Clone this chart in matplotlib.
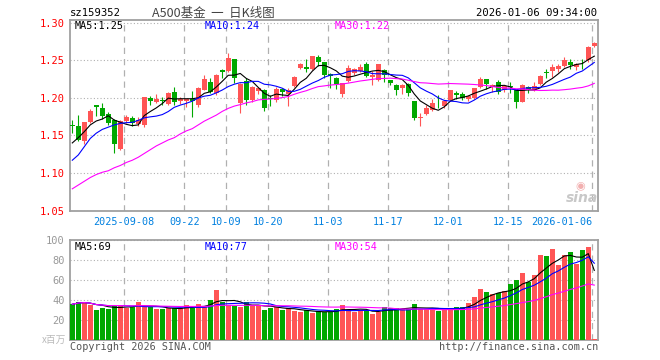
import matplotlib
matplotlib.use('Agg')
import matplotlib.pyplot as plt
import numpy as np
import pandas as pd

# daily candles, 88 sessions (last one = 2026-01-06 intraday)
opens = [1.164, 1.163, 1.142, 1.168, 1.190, 1.187, 1.179, 1.171, 1.132, 1.169,
         1.173, 1.165, 1.164, 1.200, 1.195, 1.197, 1.192, 1.208, 1.196, 1.196,
         1.198, 1.190, 1.211, 1.221, 1.206, 1.237, 1.236, 1.251, 1.193, 1.222,
         1.197, 1.209, 1.211, 1.200, 1.197, 1.212, 1.205, 1.216, 1.240, 1.241,
         1.239, 1.254, 1.247, 1.232, 1.227, 1.205, 1.222, 1.233, 1.236, 1.245,
         1.228, 1.224, 1.2375, 1.224, 1.217, 1.2137, 1.219, 1.1956, 1.1731, 1.178,
         1.1837, 1.1930, 1.1895, 1.1969, 1.2070, 1.2057, 1.1978, 1.2000, 1.2145, 1.2246,
         1.2145, 1.2211, 1.2101, 1.2150, 1.2101, 1.1948, 1.2145, 1.2110, 1.2190, 1.2330,
         1.2357, 1.2387, 1.2418, 1.2475, 1.2410, 1.2478, 1.2497, 1.2695]
highs = [1.171, 1.177, 1.168, 1.185, 1.190, 1.193, 1.181, 1.172, 1.171, 1.177,
         1.176, 1.174, 1.201, 1.202, 1.205, 1.201, 1.208, 1.215, 1.201, 1.198,
         1.209, 1.214, 1.230, 1.226, 1.232, 1.238, 1.259, 1.251, 1.220, 1.227,
         1.216, 1.215, 1.212, 1.204, 1.214, 1.213, 1.213, 1.229, 1.246, 1.252,
         1.256, 1.257, 1.247, 1.233, 1.228, 1.220, 1.243, 1.240, 1.245, 1.247,
         1.236, 1.2445, 1.239, 1.224, 1.219, 1.219, 1.2195, 1.1956, 1.1793, 1.1903,
         1.1983, 1.2044, 1.1969, 1.2110, 1.2088, 1.2079, 1.2035, 1.2136, 1.2277, 1.2246,
         1.2189, 1.2233, 1.2160, 1.2210, 1.2101, 1.2190, 1.2154, 1.2210, 1.2300, 1.2387,
         1.2453, 1.2453, 1.2540, 1.2520, 1.2462, 1.2520, 1.2695, 1.2740]
lows = [1.153, 1.143, 1.138, 1.167, 1.176, 1.172, 1.164, 1.127, 1.131, 1.166,
        1.163, 1.162, 1.161, 1.191, 1.193, 1.191, 1.190, 1.190, 1.192, 1.188,
        1.175, 1.188, 1.210, 1.207, 1.204, 1.226, 1.234, 1.220, 1.180, 1.190,
        1.194, 1.205, 1.182, 1.189, 1.195, 1.203, 1.189, 1.214, 1.238, 1.234,
        1.237, 1.242, 1.227, 1.213, 1.212, 1.201, 1.221, 1.231, 1.234, 1.228,
        1.217, 1.223, 1.221, 1.2165, 1.2035, 1.2049, 1.2023, 1.1705, 1.1631, 1.1771,
        1.1824, 1.1859, 1.1859, 1.1956, 1.1991, 1.1969, 1.1956, 1.1983, 1.2132, 1.2123,
        1.2079, 1.2057, 1.2080, 1.2060, 1.1860, 1.1948, 1.2060, 1.2090, 1.2170, 1.2270,
        1.2280, 1.2343, 1.2410, 1.2387, 1.2365, 1.2387, 1.2475, 1.2680]
closes = [1.163, 1.144, 1.168, 1.183, 1.188, 1.176, 1.166, 1.139, 1.169, 1.174,
          1.167, 1.171, 1.201, 1.196, 1.198, 1.196, 1.207, 1.195, 1.198, 1.198,
          1.196, 1.213, 1.225, 1.208, 1.230, 1.234, 1.253, 1.226, 1.219, 1.197,
          1.214, 1.213, 1.187, 1.199, 1.212, 1.208, 1.210, 1.228, 1.245, 1.239,
          1.255, 1.247, 1.230, 1.229, 1.218, 1.220, 1.240, 1.238, 1.241, 1.229,
          1.230, 1.2445, 1.230, 1.220, 1.210, 1.2168, 1.206, 1.1727, 1.1737, 1.1859,
          1.1925, 1.1925, 1.1956, 1.2110, 1.2035, 1.2000, 1.2022, 1.2136, 1.2246, 1.2180,
          1.2167, 1.2079, 1.2159, 1.2140, 1.1948, 1.2167, 1.2110, 1.2154, 1.2286, 1.2326,
          1.2410, 1.2418, 1.2497, 1.2440, 1.2453, 1.2470, 1.2682, 1.2726]
# volume, millions
volumes = [35.7, 38.3, 38.3, 35, 30, 32.3, 31, 35, 34.3, 32.3,
           33.3, 37.7, 33.3, 33.3, 31, 31, 31.7, 31.7, 31.7, 35,
           32.3, 35.7, 33.3, 40, 50, 38.3, 35, 34.3, 33.3, 37.7,
           34.3, 35, 30, 32.3, 33.3, 30, 31.7, 29, 27.7, 30,
           26.7, 29, 27.7, 28.3, 31, 35, 30, 28.3, 30, 30,
           26, 28.3, 33, 32, 31.7, 31, 31, 36, 31, 31,
           31, 29, 31, 31.7, 33, 33, 37.3, 43, 51, 48,
           46, 47.3, 49, 56, 60, 67.3, 58.3, 65, 85, 84,
           91, 75, 85, 88, 76, 90, 93, 1]

# moving averages before enough sessions are on screen
ma5_head = [1.140, 1.147, 1.155, 1.164]
ma10_head = [1.117, 1.124, 1.135, 1.146, 1.153, 1.158, 1.161, 1.164, 1.166]
ma30_head = [1.079, 1.084, 1.089, 1.094, 1.098, 1.101, 1.103, 1.107, 1.110, 1.114,
             1.117, 1.121, 1.126, 1.131, 1.136, 1.140, 1.144, 1.147, 1.152, 1.156,
             1.159, 1.164, 1.169, 1.173, 1.177, 1.182, 1.186, 1.189, 1.191]

date_idx = [9, 19, 26, 33, 43, 53, 63, 73, 87]
date_labels = ['2025-09-08', '09-22', '10-09', '10-20', '11-03', '11-17', '12-01', '12-15', '2026-01-06']
price_ticks = [1.05, 1.10, 1.15, 1.20, 1.25, 1.30]
vol_ticks = [20, 40, 60, 80, 100]

RED = '#ff5555'
GREEN = '#00a800'
GRID = '#b0b0b0'
SPINE = '#a0a0a0'
MONO = 'DejaVu Sans Mono'
CJK = ['Noto Sans CJK SC', 'DejaVu Sans']

o = np.array(opens)
h = np.array(highs)
l = np.array(lows)
c = np.array(closes)
v = np.array(volumes)
x = np.arange(len(c))
up = c >= o
cols = np.where(up, RED, GREEN)

cs = pd.Series(c)
ma5 = cs.rolling(5).mean()
ma5.iloc[:len(ma5_head)] = ma5_head
ma10 = cs.rolling(10).mean()
ma10.iloc[:len(ma10_head)] = ma10_head
ma30 = cs.rolling(30).mean()
ma30.iloc[:len(ma30_head)] = ma30_head

vs = pd.Series(v)
vma5 = vs.rolling(5, min_periods=1).mean()
vma10 = vs.rolling(10, min_periods=1).mean()
vma30 = vs.rolling(30, min_periods=1).mean()


def px(xp, yp):
    return xp / 660, 1 - yp / 360


fig = plt.figure(figsize=(6.6, 3.6), dpi=100)
ax = fig.add_axes([70 / 660, 1 - 211 / 360, 528 / 660, 191 / 360])
axv = fig.add_axes([70 / 660, 1 - 340 / 360, 528 / 660, 100 / 360])

# candles
ax.vlines(x, l, h, colors=cols, linewidth=0.8, zorder=3)
body_bottom = np.minimum(o, c)
body_h = np.maximum(np.abs(c - o), 0.0011)
ax.bar(x, body_h, bottom=body_bottom, width=0.8, color=cols, linewidth=0, zorder=3)
ax.plot(x, ma5, color='black', lw=0.8, zorder=4)
ax.plot(x, ma10, color='#0000ff', lw=0.8, zorder=4)
ax.plot(x, ma30, color='#ff00ff', lw=0.8, zorder=4)

ax.set_xlim(-0.38, 87.62)
ax.set_ylim(1.0495, 1.3035)
ax.set_yticks(price_ticks)
ax.set_yticklabels(['%.2f' % t for t in price_ticks], family=MONO, fontsize=7.5)
ax.tick_params(axis='y', length=0, pad=4, labelcolor='red')
ax.set_xticks([i - 0.33 for i in date_idx])
ax.set_xticklabels(date_labels, family=MONO, fontsize=7.3, color='#0080e0')
ax.get_xticklabels()[-1].set_ha('right')
ax.tick_params(axis='x', length=0, pad=4)
ax.grid(axis='y', color=GRID, linestyle=(0, (1, 2)), linewidth=0.8)
ax.grid(axis='x', color=GRID, linestyle=(0, (5, 4)), linewidth=0.9)
ax.set_axisbelow(True)

# volume
axv.bar(x, v, width=0.82, color=cols, linewidth=0, zorder=3)
axv.plot(x, vma5, color='black', lw=0.8, zorder=4)
axv.plot(x, vma10, color='#0000ff', lw=0.8, zorder=4)
axv.plot(x, vma30, color='#ff00ff', lw=0.8, zorder=4)
axv.set_xlim(-0.38, 87.62)
axv.set_ylim(0, 100)
axv.set_yticks(vol_ticks)
axv.set_yticklabels([str(t) for t in vol_ticks], family=MONO, fontsize=7.5)
axv.tick_params(axis='y', length=0, pad=4, labelcolor='#999999')
axv.set_xticks([i - 0.33 for i in date_idx])
axv.set_xticklabels([])
axv.tick_params(axis='x', length=0)
axv.grid(axis='y', color=GRID, linestyle=(0, (1, 2)), linewidth=0.8)
axv.grid(axis='x', color=GRID, linestyle=(0, (5, 4)), linewidth=0.9)
axv.set_axisbelow(True)

for a in (ax, axv):
    for s in a.spines.values():
        s.set_color(SPINE)
        s.set_linewidth(1.3)

# header
fig.text(*px(70, 13), 'sz159352', family=MONO, fontsize=7.6, va='center', ha='left')
fig.text(*px(213, 13), 'A500基金  一  日K线图', family=CJK,
         fontsize=9, color='#444444', va='center', ha='center')
fig.text(*px(597, 13), '2026-01-06 09:34:00', family=MONO, fontsize=7.6, va='center', ha='right')

# MA legends
fig.text(*px(75, 26), 'MA5:1.25', family=MONO, fontsize=7.3, va='center', color='black')
fig.text(*px(205, 26), 'MA10:1.24', family=MONO, fontsize=7.3, va='center', color='#0000ff')
fig.text(*px(335, 26), 'MA30:1.22', family=MONO, fontsize=7.3, va='center', color='#ff00ff')
fig.text(*px(75, 247), 'MA5:69', family=MONO, fontsize=7.3, va='center', color='black')
fig.text(*px(205, 247), 'MA10:77', family=MONO, fontsize=7.3, va='center', color='#0000ff')
fig.text(*px(335, 247), 'MA30:54', family=MONO, fontsize=7.3, va='center', color='#ff00ff')

# unit + footer
fig.text(*px(66, 340), 'x百万', family=CJK, fontsize=7,
         color='#bbbbbb', va='center', ha='right')
fig.text(*px(70, 347), 'Copyright 2026 SINA.COM', family=MONO, fontsize=7.3, color='#555555', va='center')
fig.text(*px(598, 347), 'http://finance.sina.com.cn', family=MONO, fontsize=7.3, color='#555555',
         va='center', ha='right')

# sina watermark
fig.text(*px(580, 186), '◉', fontsize=8, color='#f2b0b0', va='center', ha='center')
fig.text(*px(582, 198), 'sina', fontsize=10, style='italic', weight='bold', color='#c8c8c8',
         va='center', ha='center')

fig.savefig('out.png', dpi=100)
